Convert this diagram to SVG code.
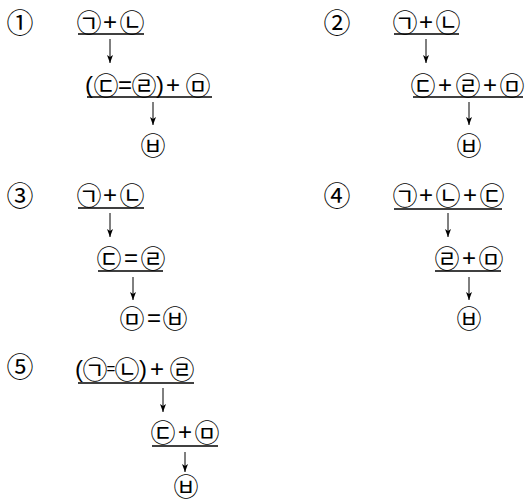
<svg xmlns="http://www.w3.org/2000/svg" width="530" height="503" viewBox="0 0 530 503">
<style>
text{font-family:"Noto Sans CJK KR","Noto Sans",sans-serif;font-size:25px;fill:#000;dominant-baseline:central;text-anchor:middle}
.op{font-family:"Liberation Sans","DejaVu Sans",sans-serif;font-size:24px}
.sm{font-size:15px}
.num{font-size:27px}
.bar{stroke:#000;stroke-width:1.5}
.arr{stroke:#000;stroke-width:1;fill:none;marker-end:url(#ah)}
</style>
<defs>
<marker id="ah" markerUnits="userSpaceOnUse" markerWidth="8" markerHeight="6" refX="8" refY="3" orient="auto" viewBox="0 0 8 6">
<path d="M0,0 L8,3 L0,6 L2,3 z" fill="#000"/>
</marker>
</defs>
<rect width="530" height="503" fill="#fff"/>
<g id="labels">
<text class="num" x="20" y="21">①</text>
<text class="num" x="337" y="21">②</text>
<text class="num" x="20" y="194">③</text>
<text class="num" x="337" y="194">④</text>
<text class="num" x="20" y="365">⑤</text>
</g>
<g id="n1a"><text y="21"><tspan x="89">㉠</tspan><tspan class="op" x="110">+</tspan><tspan x="132">㉡</tspan></text><line class="bar" x1="78" y1="34" x2="144" y2="34"/></g>
<g id="n1b"><text y="84"><tspan class="op" x="89">(</tspan><tspan x="106">㉢</tspan><tspan class="op" x="125">=</tspan><tspan x="144">㉣</tspan><tspan class="op" x="160">)</tspan><tspan class="op" x="173">+</tspan><tspan x="198">㉤</tspan></text><line class="bar" x1="87" y1="97" x2="212" y2="97"/></g>
<g id="n1c"><text x="153" y="144">㉥</text></g>
<g id="n2a"><text y="21"><tspan x="405">㉠</tspan><tspan class="op" x="426">+</tspan><tspan x="448">㉡</tspan></text><line class="bar" x1="394" y1="34" x2="459" y2="34"/></g>
<g id="n2b"><text y="84"><tspan x="423">㉢</tspan><tspan class="op" x="445">+</tspan><tspan x="468">㉣</tspan><tspan class="op" x="490">+</tspan><tspan x="512">㉤</tspan></text><line class="bar" x1="413" y1="97" x2="523" y2="97"/></g>
<g id="n2c"><text x="469" y="144">㉥</text></g>
<g id="n3a"><text y="194"><tspan x="89">㉠</tspan><tspan class="op" x="110">+</tspan><tspan x="132">㉡</tspan></text><line class="bar" x1="78" y1="208" x2="144" y2="208"/></g>
<g id="n3b"><text y="257"><tspan x="109">㉢</tspan><tspan class="op" x="131">=</tspan><tspan x="153">㉣</tspan></text><line class="bar" x1="98" y1="271" x2="163" y2="271"/></g>
<g id="n3c"><text y="317"><tspan x="132">㉤</tspan><tspan class="op" x="154">=</tspan><tspan x="175">㉥</tspan></text></g>
<g id="n4a"><text y="194"><tspan x="405">㉠</tspan><tspan class="op" x="426">+</tspan><tspan x="448">㉡</tspan><tspan class="op" x="470">+</tspan><tspan x="492">㉢</tspan></text><line class="bar" x1="394" y1="209" x2="502" y2="209"/></g>
<g id="n4b"><text y="257"><tspan x="447">㉣</tspan><tspan class="op" x="469">+</tspan><tspan x="491">㉤</tspan></text><line class="bar" x1="435" y1="271" x2="501" y2="271"/></g>
<g id="n4c"><text x="469" y="317">㉥</text></g>
<g id="n5a"><text y="368"><tspan class="op" x="79">(</tspan><tspan x="95">㉠</tspan><tspan class="op sm" x="111">=</tspan><tspan x="127">㉡</tspan><tspan class="op" x="143">)</tspan><tspan class="op" x="157">+</tspan><tspan x="182">㉣</tspan></text><line class="bar" x1="78" y1="383" x2="194" y2="383"/></g>
<g id="n5b"><text y="431"><tspan x="163">㉢</tspan><tspan class="op" x="185">+</tspan><tspan x="207">㉤</tspan></text><line class="bar" x1="152" y1="446" x2="218" y2="446"/></g>
<g id="n5c"><text x="186" y="485">㉥</text></g>
<g id="connectors">
<line class="arr" x1="110" y1="39" x2="110" y2="63"/>
<line class="arr" x1="153" y1="102" x2="153" y2="125"/>
<line class="arr" x1="426" y1="39" x2="426" y2="63"/>
<line class="arr" x1="469" y1="102" x2="469" y2="125"/>
<line class="arr" x1="110" y1="213" x2="110" y2="237"/>
<line class="arr" x1="133" y1="277" x2="133" y2="300"/>
<line class="arr" x1="448" y1="213" x2="448" y2="237"/>
<line class="arr" x1="469" y1="277" x2="469" y2="300"/>
<line class="arr" x1="163" y1="388" x2="163" y2="412"/>
<line class="arr" x1="185" y1="452" x2="185" y2="472"/>
</g>
</svg>
